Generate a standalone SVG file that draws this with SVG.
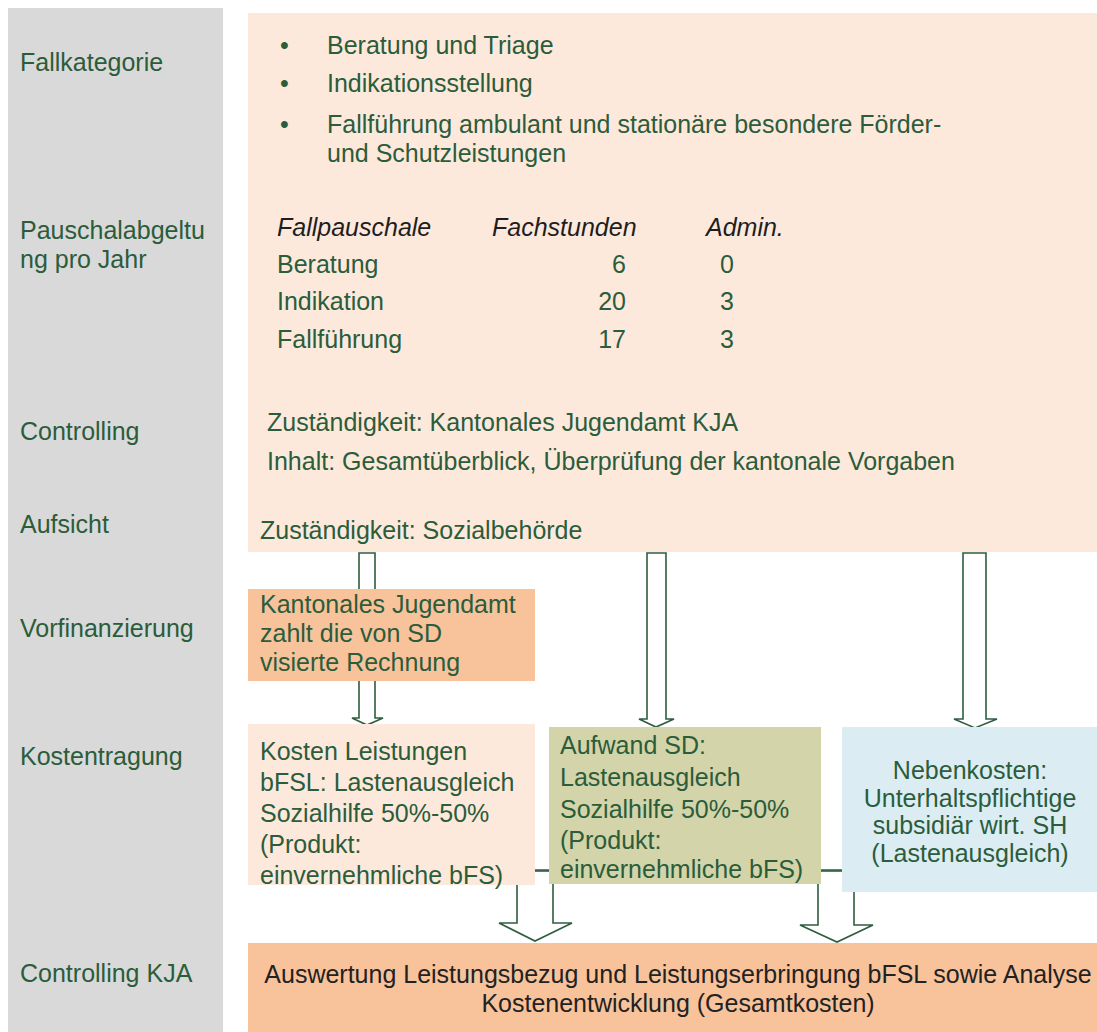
<svg xmlns="http://www.w3.org/2000/svg" width="1097" height="1032" viewBox="0 0 1097 1032">
<style>
text{font-family:"Liberation Sans",Arial,sans-serif;font-size:25px;fill:#2b5c3b}
.hdr{font-style:italic;fill:#1e1e1e}
.dark{fill:#222}
.mid{text-anchor:middle}
.end{text-anchor:end}
.arrow{fill:#fff;stroke:#2e5e3e;stroke-width:1.6;stroke-linejoin:miter}
.line{stroke:#2e5e3e;stroke-width:1.6;fill:none}
</style>
<rect width="1097" height="1032" fill="#fff"/>
<g id="labels">
<rect x="8" y="8" width="215" height="1024" fill="#d9d9d9"/>
<text x="20" y="71">Fallkategorie</text>
<text x="20" y="239">Pauschalabgeltu</text>
<text x="20" y="268">ng pro Jahr</text>
<text x="20" y="440">Controlling</text>
<text x="20" y="533">Aufsicht</text>
<text x="20" y="637">Vorfinanzierung</text>
<text x="20" y="765">Kostentragung</text>
<text x="20" y="982">Controlling KJA</text>
</g>
<g id="connectors">
<path class="arrow" d="M359,553 L375,553 L375,718 L383,718 L367,725 L352,718 L359,718 Z"/>
<path class="arrow" d="M647,553 L666,553 L666,719 L674,719 L656,727 L639,719 L647,719 Z"/>
<path class="arrow" d="M963,553 L986,553 L986,719 L997,719 L975,728 L954,719 L963,719 Z"/>
<path class="arrow" d="M517,870 L553,870 L553,923 L572,923 L535,941 L499,923 L517,923 Z"/>
<path class="arrow" d="M818,870 L854,870 L854,925 L873,925 L837,942 L800,925 L818,925 Z"/>
<line class="line" x1="534" y1="871" x2="550" y2="871"/>
<line class="line" x1="820" y1="871" x2="842" y2="871"/>
</g>
<g id="main-panel">
<rect x="248" y="13" width="849" height="539" fill="#fde9dc"/>
<text x="280" y="54">•</text><text x="327" y="54">Beratung und Triage</text>
<text x="280" y="92">•</text><text x="327" y="92">Indikationsstellung</text>
<text x="280" y="133">•</text><text x="327" y="133">Fallführung ambulant und stationäre besondere Förder-</text>
<text x="327" y="162">und Schutzleistungen</text>
<text class="hdr" x="277" y="236">Fallpauschale</text>
<text class="hdr" x="492" y="236">Fachstunden</text>
<text class="hdr" x="706" y="236">Admin.</text>
<text x="277" y="273">Beratung</text><text class="end" x="626" y="273">6</text><text x="720" y="273">0</text>
<text x="277" y="310">Indikation</text><text class="end" x="626" y="310">20</text><text x="720" y="310">3</text>
<text x="277" y="348">Fallführung</text><text class="end" x="626" y="348">17</text><text x="720" y="348">3</text>
<text x="267" y="431">Zuständigkeit: Kantonales Jugendamt KJA</text>
<text x="267" y="470">Inhalt: Gesamtüberblick, Überprüfung der kantonale Vorgaben</text>
<text x="260" y="539">Zuständigkeit: Sozialbehörde</text>
</g>
<g id="vorfinanzierung">
<rect x="248" y="589" width="287" height="92" fill="#f8c39b"/>
<text x="260" y="613">Kantonales Jugendamt</text>
<text x="260" y="642">zahlt die von SD</text>
<text x="260" y="671">visierte Rechnung</text>
</g>
<g id="kosten-leistungen">
<rect x="248" y="724" width="287" height="161" fill="#fde9dc"/>
<text x="260" y="760">Kosten Leistungen</text>
<text x="260" y="791">bFSL: Lastenausgleich</text>
<text x="260" y="822">Sozialhilfe 50%-50%</text>
<text x="260" y="853">(Produkt:</text>
<text x="260" y="884">einvernehmliche bFS)</text>
</g>
<g id="aufwand-sd">
<rect x="549" y="727" width="272" height="157" fill="#d3d4a9"/>
<text x="560" y="754">Aufwand SD:</text>
<text x="560" y="786">Lastenausgleich</text>
<text x="560" y="818">Sozialhilfe 50%-50%</text>
<text x="560" y="849">(Produkt:</text>
<text x="560" y="878">einvernehmliche bFS)</text>
</g>
<g id="nebenkosten">
<rect x="842" y="727" width="255" height="165" fill="#dbedf3"/>
<text class="mid" x="970" y="779">Nebenkosten:</text>
<text class="mid" x="970" y="807">Unterhaltspflichtige</text>
<text class="mid" x="970" y="834">subsidiär wirt. SH</text>
<text class="mid" x="970" y="862">(Lastenausgleich)</text>
</g>
<g id="controlling-kja">
<rect x="248" y="943" width="849" height="89" fill="#f8c39b"/>
<text class="mid dark" x="678" y="983">Auswertung Leistungsbezug und Leistungserbringung bFSL sowie Analyse</text>
<text class="mid dark" x="678" y="1012">Kostenentwicklung (Gesamtkosten)</text>
</g>
</svg>
